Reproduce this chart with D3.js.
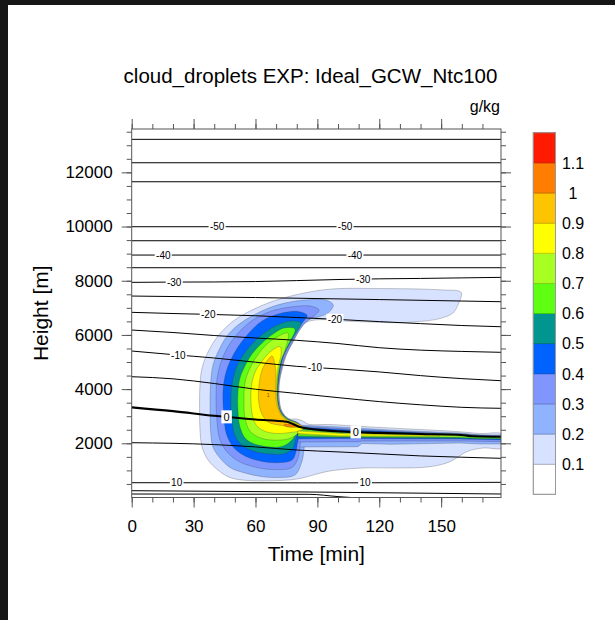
<!DOCTYPE html>
<html><head><meta charset="utf-8">
<script src="https://cdn.jsdelivr.net/npm/d3@7"></script>
<style>
body{margin:0;background:#fff;}
svg{display:block;font-family:"Liberation Sans",Arial,Helvetica,sans-serif;}
</style></head><body>
<svg id="c" width="615" height="620"></svg>
<script>
// ---------------- data ----------------
const levels = [0.1,0.2,0.3,0.4,0.5,0.6,0.7,0.8,0.9,1.0,1.1];
const levelLabels = ["0.1","0.2","0.3","0.4","0.5","0.6","0.7","0.8","0.9","1","1.1"];
const fillColors = ["#ffffff","#d6e2ff","#8fb3ff","#7f96ff","#0063ff","#00968f","#5eff10","#a8ff22","#ffff00","#ffc400","#ff7d00","#ff1a00"];
const xTicks = [0,30,60,90,120,150];
const yTicks = [2000,4000,6000,8000,10000,12000];
const timeMax = 179, heightMax = 13600;

// cloud droplet mixing ratio regions (time [min], height [m]) : area >= level
const cloudL01 = [[159.9,7535],[158.1,7103],[155.7,6808],[149.4,6605],[139.7,6494],[128.6,6450],[115.5,6476],[103.4,6513],[97.6,6550],[88.8,6550],[84.0,6439],[81.6,6218],[78.2,5738],[75.0,5258],[73.1,4779],[71.6,4225],[71.6,3598],[72.8,3192],[76.0,2915],[79.6,2897],[83.0,2823],[85.4,2712],[96.1,2694],[108.2,2638],[130.0,2546],[149.4,2472],[160.6,2417],[168.8,2362],[180,2325],[180,1838],[170.3,1827],[162.4,1690],[154.3,1321],[144.6,1137],[130.0,1089],[112.1,1089],[96.1,978],[89.7,867],[81.6,701],[71.9,627],[53.3,646],[46.7,768],[41.8,1015],[37.0,1384],[34.1,1863],[33.1,2491],[32.9,3229],[33.1,4151],[34.1,4779],[37.0,5369],[41.8,5959],[48.6,6476],[57.3,6882],[68.0,7232],[79.1,7472],[90.3,7638],[101.0,7712],[120.3,7712],[139.7,7694],[151.8,7657],[158.6,7620]];
const cloudL02 = [[97.7,7103],[95.1,6808],[90.3,6660],[85.4,6550],[81.6,6255],[78.2,5775],[74.8,5258],[72.8,4779],[71.4,4225],[71.4,3598],[72.6,3192],[75.8,2897],[81.6,2712],[83.5,2306],[83.5,1753],[82.1,1236],[79.1,830],[70.9,738],[62.7,775],[54.9,904],[48.1,1089],[42.8,1458],[39.4,1863],[38.2,2491],[38.0,3229],[38.2,4151],[39.4,4889],[42.3,5443],[46.2,5959],[51.5,6365],[58.3,6697],[67.0,7011],[76.7,7214],[87.4,7306],[94.2,7288]];
const cloudL03 = [[90.8,6919],[88.4,6697],[84.5,6476],[81.1,6144],[77.7,5701],[74.3,5221],[72.4,4705],[71.1,4151],[71.1,3598],[72.4,3192],[75.5,2915],[80.6,2749],[82.5,2417],[81.6,1937],[80.6,1458],[77.7,1107],[68.0,1033],[59.8,1125],[52.5,1310],[46.7,1642],[42.8,2122],[41.3,2860],[40.9,3598],[41.3,4336],[43.3,5000],[47.2,5627],[53.0,6181],[60.2,6623],[69.5,6919],[79.1,7048],[86.4,7066]];
const cloudL04 = [[85.0,6716],[83.0,6476],[80.1,6144],[76.7,5701],[73.6,5221],[71.9,4705],[70.9,4151],[70.9,3598],[72.1,3192],[75.3,2915],[80.1,2749],[82.1,2491],[80.6,2122],[79.6,1679],[77.7,1384],[69.9,1284],[62.2,1347],[55.4,1513],[49.6,1827],[45.9,2343],[44.7,3044],[44.2,3672],[44.7,4262],[46.7,4852],[50.6,5443],[56.4,6033],[63.2,6513],[71.9,6790],[80.6,6863]];
const cloudL05 = [[82.1,6439],[80.6,6181],[76.7,5701],[73.3,5221],[71.6,4705],[70.7,4151],[70.7,3598],[71.9,3192],[74.8,2915],[79.6,2749],[81.6,2565],[79.6,2196],[78.2,1827],[74.3,1624],[67.0,1605],[59.8,1697],[53.9,1900],[50.1,2269],[48.6,2860],[48.1,3598],[48.6,4151],[50.6,4779],[54.4,5295],[60.2,5812],[67.0,6218],[74.3,6476],[78.7,6513]];
const cloudL06 = [[79.1,6218],[75.8,5627],[72.8,5148],[71.4,4668],[70.7,4151],[70.7,3598],[71.9,3192],[75.3,2897],[80.1,2749],[81.6,2565],[79.6,2343],[77.7,2122],[72.8,1882],[61.2,1937],[55.4,2159],[52.5,2601],[51.5,3229],[51.5,3893],[52.5,4410],[54.9,4852],[58.3,5295],[63.2,5701],[68.5,6033],[73.8,6255]];
const cloudL07 = [[75.8,6070],[74.3,5443],[72.1,5000],[70.9,4520],[70.4,3967],[70.9,3450],[72.6,3081],[76.0,2860],[80.6,2731],[82.5,2565],[80.6,2380],[77.7,2214],[72.7,2122],[63.2,2177],[57.3,2454],[54.9,2934],[54.4,3598],[54.9,4225],[56.9,4705],[60.7,5221],[65.6,5664],[70.4,5922]];
const cloudL08 = [[71.9,5572],[72.4,5258],[71.1,4889],[70.4,4446],[70.2,3967],[70.7,3450],[72.4,3081],[75.8,2841],[80.6,2712],[83.5,2565],[81.1,2454],[76.7,2399],[71.9,2362],[65.6,2417],[60.7,2638],[58.5,3044],[57.8,3598],[58.1,4151],[59.8,4631],[63.2,5037],[67.0,5369]];
const cloudL09 = [[68.0,5221],[69.5,4889],[69.9,4520],[69.7,3967],[70.4,3413],[72.8,3007],[76.2,2804],[81.1,2694],[82.5,2620],[79.1,2601],[72.8,2657],[66.1,2786],[62.9,3118],[61.5,3598],[61.7,4151],[63.2,4705],[65.6,5037]];
const cloudL10 = [[73.8,2694],[78.2,2675],[81.1,2638],[79.6,2601],[74.8,2620]];
// trailing layer near the melting level
const tailL02 = [[80.6,2675],[101,2601],[125.2,2491],[159.1,2380],[168.8,2306],[180,2306],[180,1974],[168.8,1974],[159.1,2011],[125.2,1963],[111.6,1993],[109.7,1875],[80.6,1863]];
const tailL03 = [[80.6,2638],[101,2546],[125.2,2454],[159.1,2343],[180,2269],[180,2059],[159.1,2085],[125.2,2085],[111.6,2085],[109.7,2059],[80.6,2048]];
const tailL04 = [[80.6,2601],[101,2509],[125.2,2435],[159.1,2325],[180,2251],[180,2122],[159.1,2159],[125.2,2170],[101,2177],[80.6,2159]];
const tailL05 = [[80.6,2565],[101,2454],[125.2,2399],[159.1,2306],[180,2244],[180,2159],[159.1,2177],[125.2,2196],[101,2214],[80.6,2214]];
const tailL06 = [[80.6,2528],[101,2399],[125.2,2362],[159.1,2343],[168.8,2251],[180,2232],[180,2177],[168.8,2177],[159.1,2214],[125.2,2221],[101,2232],[80.6,2269]];
const tailL07 = [[80.6,2491],[101,2380],[125.2,2343],[156.6,2325],[160.6,2288],[160.6,2251],[156.6,2232],[125.2,2240],[101,2251],[80.6,2325]];
const tailL08 = [[80.6,2454],[101,2362],[130,2314],[149.4,2295],[149.4,2269],[130,2269],[101,2277],[80.6,2362]];

// temperature isolines (deg C): (time [min], height [m])
const isoTopA = [[0,13218],[179,13218]];
const isoTopB = [[0,12354],[179,12354]];
const isoM55 = [[0,11653],[179,11653]];
const isoM50 = [[0,9993],[179,9993]];
const isoM45 = [[0,9476],[179,9476]];
const isoM40 = [[0,8948],[179,8948]];
const isoM35 = [[0,8480],[179,8480]];
const isoM30 = [[0,7940],[20,7950],[40,7955],[60,7970],[80,8005],[100,8045],[120,8070],[140,8085],[160,8105],[179,8125]];
const isoM25 = [[0,7435],[60,7380],[120,7305],[179,7225]];
const isoM20 = [[0,6834],[20,6790],[40,6753],[60,6708],[80,6642],[100,6572],[120,6491],[140,6417],[160,6347],[179,6302]];
const isoM15 = [[0,6181],[20,6089],[40,5978],[60,5886],[80,5801],[100,5683],[120,5528],[140,5439],[160,5391],[179,5358]];
const isoM10 = [[0,5406],[20,5273],[40,5148],[60,4993],[80,4841],[100,4745],[120,4635],[140,4498],[160,4387],[179,4310]];
const isoM05 = [[0,4458],[20,4380],[40,4207],[60,3996],[80,3841],[100,3686],[120,3539],[140,3421],[160,3328],[179,3291]];
const iso00 = [[0,3328],[20,3188],[40,3018],[60,2878],[75,2797],[82,2590],[90,2506],[100,2443],[120,2384],[140,2343],[160,2306],[165,2262],[179,2244]];
const isoP05 = [[0,2022],[40,1952],[60,1867],[80,1753],[100,1683],[120,1609],[140,1535],[160,1487],[179,1446]];
const isoP10 = [[0,546],[90,540],[179,560]];
const isoP15 = [[0,251],[86,203],[179,129]];
const isoP20 = [[0,129],[86,118],[100,33],[110,-20]];

const labelValues = [-50,-50,-40,-40,-30,-30,-20,-20,-10,-10,0,0,10,10];
const labelTimes  = [41.4,103.4,15.3,108.2,20.6,112.2,37.1,98.5,22.6,88.8,46.0,108.6,21.8,113.1];

// ---------------- assembly ----------------
const cloudShapes = [
  {level:0.1, rings:[cloudL01], smooth:[true]},
  {level:0.2, rings:[cloudL02, tailL02], smooth:[true,false]},
  {level:0.3, rings:[cloudL03, tailL03], smooth:[true,false]},
  {level:0.4, rings:[cloudL04, tailL04], smooth:[true,false]},
  {level:0.5, rings:[cloudL05, tailL05], smooth:[true,false]},
  {level:0.6, rings:[cloudL06, tailL06], smooth:[true,false]},
  {level:0.7, rings:[cloudL07, tailL07], smooth:[true,false]},
  {level:0.8, rings:[cloudL08, tailL08], smooth:[true,false]},
  {level:0.9, rings:[cloudL09], smooth:[true]},
  {level:1.0, rings:[cloudL10], smooth:[true]}
];
const isotherms = [
  {v:-65, pts:isoTopA},{v:-60, pts:isoTopB},{v:-55, pts:isoM55},{v:-50, pts:isoM50},
  {v:-45, pts:isoM45},{v:-40, pts:isoM40},{v:-35, pts:isoM35},{v:-30, pts:isoM30},
  {v:-25, pts:isoM25},{v:-20, pts:isoM20},{v:-15, pts:isoM15},{v:-10, pts:isoM10},
  {v:-5, pts:isoM05},{v:0, pts:iso00},{v:5, pts:isoP05},{v:10, pts:isoP10},
  {v:15, pts:isoP15},{v:20, pts:isoP20}
];

// ---------------- drawing ----------------
const svg = d3.select("#c");
svg.append("rect").attr("width",615).attr("height",620).attr("fill","#fff");
svg.append("rect").attr("x",0).attr("y",0).attr("width",615).attr("height",5).attr("fill","#161616");
svg.append("rect").attr("x",0).attr("y",0).attr("width",8).attr("height",620).attr("fill","#161616");

const X0=131.7, X1=501, Y0=497.5, Y1=129;
const x = d3.scaleLinear().domain([0,timeMax]).range([X0,X1]);
const y = d3.scaleLinear().domain([0,heightMax]).range([Y0,Y1]);
const color = d3.scaleThreshold().domain(levels).range(fillColors);

svg.append("clipPath").attr("id","pc").append("rect")
  .attr("x",X0).attr("y",Y1).attr("width",X1-X0).attr("height",Y0-Y1);
const g = svg.append("g").attr("clip-path","url(#pc)");

const smoothRing = d3.line().x(d=>x(d[0])).y(d=>y(d[1])).curve(d3.curveCatmullRomClosed.alpha(0.5));
const flatRing = d3.line().x(d=>x(d[0])).y(d=>y(d[1])).curve(d3.curveLinearClosed);

cloudShapes.forEach(s=>{
  s.rings.forEach((r,i)=>{
    g.append("path").attr("d", (s.smooth[i]?smoothRing:flatRing)(r))
      .attr("fill", color(s.level+1e-6))
      .attr("stroke","#3a3a3a").attr("stroke-width",0.5).attr("stroke-opacity",0.55);
  });
});
// small contour label inside the core
g.append("text").attr("x",x(66.1)).attr("y",y(3782)).attr("font-size",6)
  .attr("text-anchor","middle").attr("dy","0.35em").attr("fill","#9a5a00").text("1");

const isoLine = d3.line().x(d=>x(d[0])).y(d=>y(d[1])).curve(d3.curveMonotoneX);
isotherms.forEach(it=>{
  g.append("path").attr("d", isoLine(it.pts)).attr("fill","none")
    .attr("stroke","#000").attr("stroke-width", it.v===0?2.1:1);
});

function hAt(pts,t){
  for(let i=0;i<pts.length-1;i++){
    const a=pts[i], b=pts[i+1];
    if(t>=a[0] && t<=b[0]) return a[1]+(b[1]-a[1])*(t-a[0])/(b[0]-a[0]);
  }
  return pts[pts.length-1][1];
}
labelValues.forEach((v,i)=>{
  const it = isotherms.find(d=>d.v===v);
  const t = labelTimes[i], h = hAt(it.pts,t);
  const lg = g.append("g").attr("transform",`translate(${x(t)},${y(h)})`);
  const fs = v===0?11:10;
  const tx = lg.append("text").attr("font-size",fs).attr("text-anchor","middle")
    .attr("dy","0.36em").attr("fill","#000").text(String(v));
  const w = tx.node().getComputedTextLength();
  lg.insert("rect","text").attr("x",-w/2-(v===0?2.2:1.3)).attr("y",-(v===0?6.5:5.5))
    .attr("width",w+(v===0?4.4:2.6)).attr("height",v===0?13:11).attr("fill","#fff");
});

// axes
const axisColor = "#555";
function styleAxis(sel){
  sel.select(".domain").remove();
  sel.selectAll(".tick line").attr("stroke",axisColor);
  sel.selectAll(".tick text").attr("fill","#000").attr("font-size",17);
  sel.attr("font-family",null).attr("font-size",null);
}
const minorX = d3.range(0,timeMax+1,10);
const minorY = d3.range(500,heightMax,500);
svg.append("g").attr("transform",`translate(0,${Y0})`)
  .call(d3.axisBottom(x).tickValues(minorX).tickSize(5).tickFormat("")).call(styleAxis);
svg.append("g").attr("transform",`translate(0,${Y0})`)
  .call(d3.axisBottom(x).tickValues(xTicks).tickSize(10).tickPadding(12).tickFormat(d3.format("d"))).call(styleAxis);
svg.append("g").attr("transform",`translate(0,${Y1})`)
  .call(d3.axisTop(x).tickValues(minorX).tickSize(5).tickFormat("")).call(styleAxis);
svg.append("g").attr("transform",`translate(0,${Y1})`)
  .call(d3.axisTop(x).tickValues(xTicks).tickSize(10).tickFormat("")).call(styleAxis);
svg.append("g").attr("transform",`translate(${X0},0)`)
  .call(d3.axisLeft(y).tickValues(minorY).tickSize(5).tickFormat("")).call(styleAxis);
svg.append("g").attr("transform",`translate(${X0},0)`)
  .call(d3.axisLeft(y).tickValues(yTicks).tickSize(10).tickPadding(9).tickFormat(d3.format("d"))).call(styleAxis);
svg.append("g").attr("transform",`translate(${X1},0)`)
  .call(d3.axisRight(y).tickValues(minorY).tickSize(5).tickFormat("")).call(styleAxis);
svg.append("g").attr("transform",`translate(${X1},0)`)
  .call(d3.axisRight(y).tickValues(yTicks).tickSize(10).tickFormat("")).call(styleAxis);
svg.append("rect").attr("x",X0).attr("y",Y1).attr("width",X1-X0).attr("height",Y0-Y1)
  .attr("fill","none").attr("stroke",axisColor).attr("stroke-width",1);

// titles
svg.append("text").attr("x",310.5).attr("y",83).attr("text-anchor","middle")
  .attr("font-size",20.5).attr("fill","#000").text("cloud_droplets EXP: Ideal_GCW_Ntc100");
svg.append("text").attr("x",500).attr("y",112).attr("text-anchor","end")
  .attr("font-size",16).attr("fill","#000").text("g/kg");
svg.append("text").attr("x",(X0+X1)/2).attr("y",561).attr("text-anchor","middle")
  .attr("font-size",21).attr("fill","#000").text("Time [min]");
svg.append("text").attr("transform",`translate(48,${(Y0+Y1)/2}) rotate(-90)`).attr("text-anchor","middle")
  .attr("font-size",21).attr("fill","#000").text("Height [m]");

// colorbar
const cbX = 533.3, cbW = 22.2;
const cb = d3.scaleLinear().domain([0,fillColors.length]).range([494.3,132.7]);
const cbg = svg.append("g");
fillColors.forEach((c,i)=>{
  cbg.append("rect").attr("x",cbX).attr("y",cb(i+1)).attr("width",cbW).attr("height",cb(i)-cb(i+1))
    .attr("fill",c).attr("stroke",i===0?"#999":d3.color(c).darker(0.7)).attr("stroke-width",0.8);
});
cbg.append("rect").attr("x",cbX).attr("y",cb(fillColors.length)).attr("width",cbW)
  .attr("height",cb(0)-cb(fillColors.length)).attr("fill","none").attr("stroke","#999").attr("stroke-width",1);
levelLabels.forEach((l,i)=>{
  cbg.append("text").attr("x",573).attr("y",cb(i+1)).attr("dy","0.36em").attr("text-anchor","middle")
    .attr("font-size",16).attr("fill","#000").text(l);
});
</script>
</body></html>
